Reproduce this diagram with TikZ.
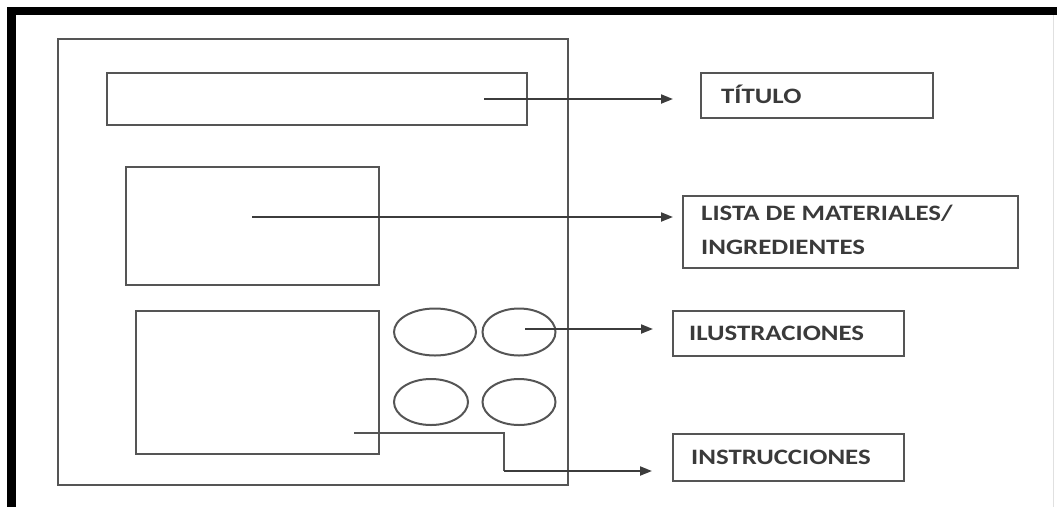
\documentclass[tikz,border=0pt]{standalone}
\usepackage{fontspec}
\setmainfont{Carlito}
\newfontfamily\labfont[FakeStretch=1.22]{Carlito}
\usetikzlibrary{arrows.meta,shapes.geometric,positioning}
\definecolor{ln}{HTML}{555555}
\definecolor{txt}{HTML}{3A3A3A}
\tikzset{
  box/.style={draw=ln,line width=2pt,inner sep=0pt,anchor=north west},
  oval/.style={draw=ln,line width=2pt,ellipse,inner sep=0pt},
  lab/.style={anchor=west,inner sep=0pt,text=txt,font=\labfont\bfseries\fontsize{22}{34}\selectfont,align=left},
  arr/.style={draw=ln!70!black,line width=2pt,-{Triangle[length=12pt,width=9pt]}},
  conn/.style={draw=ln,line width=2pt}
}
\begin{document}
\begin{tikzpicture}[x=1pt,y=-1pt]
\useasboundingbox (0,0) rectangle (1057,507);
% frame
\fill[black] (7,7) rectangle (1057,15);
\fill[black] (7,7) rectangle (16,507);
\draw[black!12,line width=1pt] (1053,15) -- (1053,507);
% page
\node[box,minimum width=510pt,minimum height=446pt] (page) at (57,38) {};
\node[box,minimum width=420pt,minimum height=52pt] (titlebox) at (106,72) {};
\node[box,minimum width=253pt,minimum height=118pt] (matbox) at (125,166) {};
\node[box,minimum width=243pt,minimum height=143pt] (insbox) at (135,310) {};
\node[oval,minimum width=82pt,minimum height=47pt] (e1) at (435,332) {};
\node[oval,minimum width=73pt,minimum height=47pt] (e2) at (519,332) {};
\node[oval,minimum width=74pt,minimum height=46pt] (e3) at (431,402) {};
\node[oval,minimum width=73pt,minimum height=46pt] (e4) at (519,402) {};
% labels
\node[box,minimum width=232pt,minimum height=45pt] (tlab) at (700,72) {};
\node[lab] (ttext) at (721,94) {TÍTULO};
\node[box,minimum width=335pt,minimum height=72pt] (mlab) at (682,195) {};
\node[lab] (mtext) at (701,230) {LISTA DE MATERIALES/\\INGREDIENTES};
\node[box,minimum width=231pt,minimum height=45pt] (ilab) at (672,310) {};
\node[lab] (itext) at (689,333) {ILUSTRACIONES};
\node[box,minimum width=231pt,minimum height=47pt] (nlab) at (672,433) {};
\node[lab] (ntext) at (691,457) {INSTRUCCIONES};
% connectors
\coordinate (ts) at (484,99);
\coordinate (te) at (673,99);
\draw[arr] (ts) -- (te);
\coordinate (ms) at (252,217);
\coordinate (me) at (673,217);
\draw[arr] (ms) -- (me);
\coordinate (is) at (525,329);
\coordinate (ie) at (653,329);
\draw[arr] (is) -- (ie);
\coordinate (ns) at (354,433);
\coordinate (nb) at (504,433);
\coordinate (nc) at (504,471);
\coordinate (ne) at (652,471);
\draw[conn] (ns) -- (nb) -- (nc);
\draw[arr] (nc) -- (ne);
\end{tikzpicture}
\end{document}
